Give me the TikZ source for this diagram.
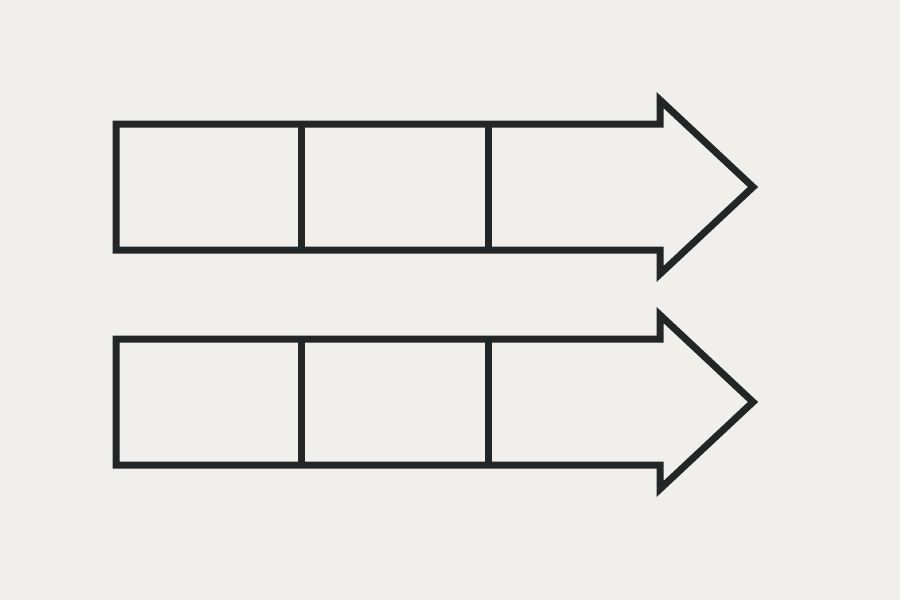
\documentclass[tikz,border=0pt]{standalone}
\usepackage{tikz}
\definecolor{paper}{HTML}{F0EFEB}
\definecolor{ink}{HTML}{232627}

\begin{document}
\begin{tikzpicture}[x=1pt, y=-1pt,
                    arrow line/.style={draw=ink, line width=7pt, line join=miter, miter limit=10}]

  \fill[paper] (0,0) rectangle (900,600);
  \useasboundingbox (0,0) rectangle (900,600);

  \foreach \dy in {0,215} {
    \begin{scope}[yshift=-\dy pt]
      % outline of the arrow
      \draw[arrow line] (116,124) -- (660,124) -- (660,100) -- (753,187)
                        -- (660,274) -- (660,250) -- (116,250) -- cycle;
      % cell dividers
      \draw[arrow line] (301,124) -- (301,250);
      \draw[arrow line] (488,124) -- (488,250);
    \end{scope}
  }
\end{tikzpicture}
\end{document}
